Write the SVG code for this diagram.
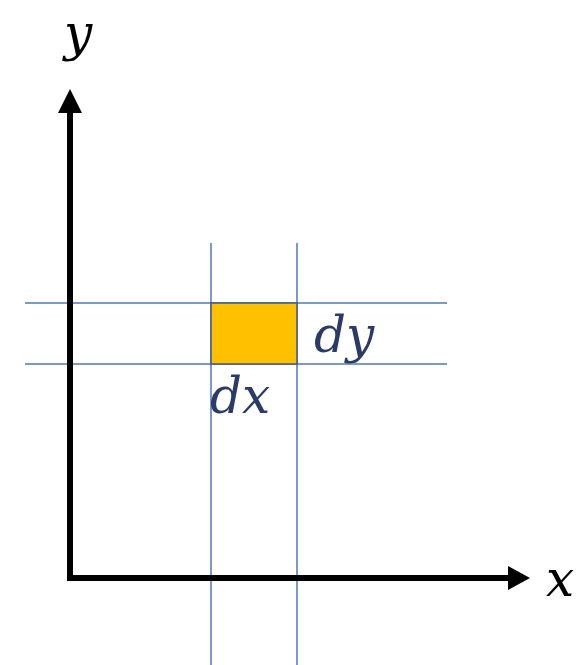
<svg xmlns="http://www.w3.org/2000/svg" width="580" height="665" viewBox="0 0 580 665">
<style>
.grid{stroke:#5277b4;stroke-width:1.5;fill:none}
.axis{stroke:#000;stroke-width:6;fill:none}
.lbl{font-family:"DejaVu Serif","Liberation Serif",serif;font-style:italic;font-size:50px}
.blue{fill:#2b3a66}
</style>
<rect width="580" height="665" fill="#fff"/>
<g id="connectors">
<line class="grid" x1="211" y1="243" x2="211" y2="665"/>
<line class="grid" x1="297" y1="243" x2="297" y2="665"/>
<line class="grid" x1="25" y1="303" x2="447" y2="303"/>
<line class="grid" x1="25" y1="364" x2="447" y2="364"/>
<path class="axis" d="M70,108 V578 H512"/>
<polygon points="70,89 58,113 82,113" fill="#000"/>
<polygon points="530,578 508,566 508,590" fill="#000"/>
</g>
<g id="element">
<rect x="211" y="303" width="86" height="61" fill="#ffc000" stroke="#3d5a8f" stroke-width="1.5"/>
</g>
<g id="label-y"><text class="lbl" x="64" y="50">y</text></g>
<g id="label-x"><text class="lbl" x="546" y="596">x</text></g>
<g id="label-dy"><text class="lbl blue" x="314" y="352">dy</text></g>
<g id="label-dx"><text class="lbl blue" x="210" y="413">dx</text></g>
</svg>
